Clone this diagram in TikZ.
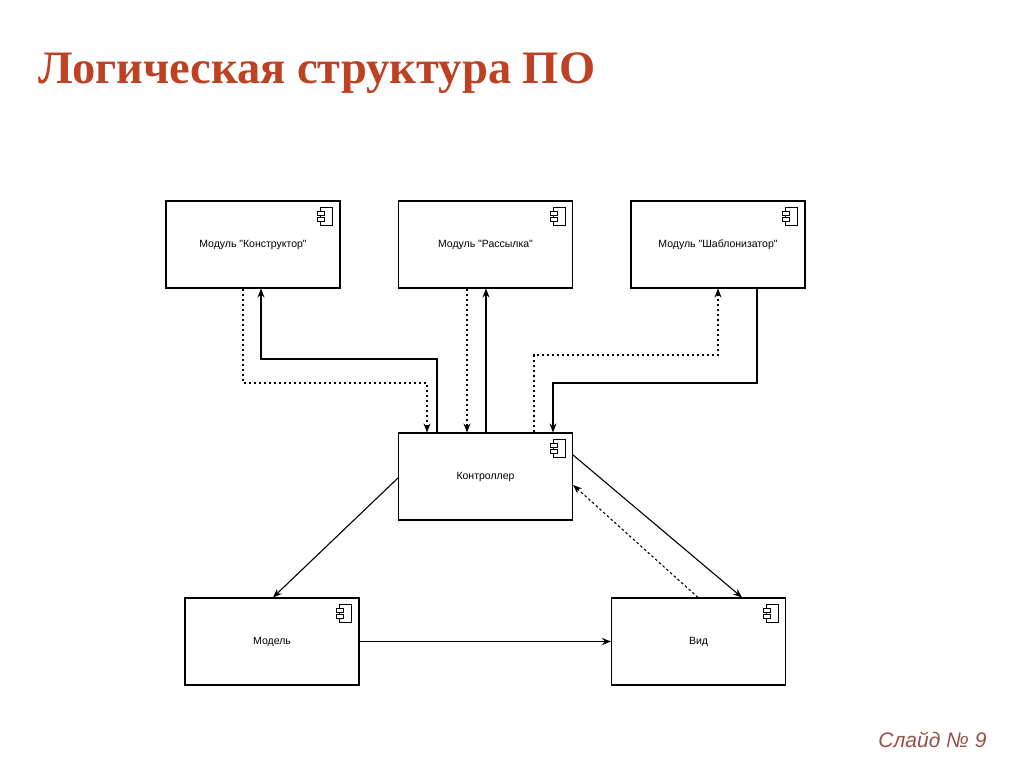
\documentclass[tikz,border=0pt]{standalone}
\usepackage{fontspec}
\setmainfont{Liberation Serif}
\newfontfamily\arialf{Liberation Sans}
\usetikzlibrary{arrows.meta}
\definecolor{titlered}{RGB}{190,65,35}
\definecolor{slidegray}{RGB}{150,80,70}
\tikzset{
  comp/.style={draw, line width=1.1pt, minimum width=174pt, minimum height=87pt, inner sep=0pt, font=\arialf\fontsize{10.5}{12}\selectfont},
  conn/.style={line width=1.1pt, -{Stealth[length=9pt,width=7pt]}},
  dconn/.style={conn, dash pattern=on 2.5pt off 2.5pt},
}
\newcommand{\compicon}[1]{%
  \draw[line width=0.7pt] ([xshift=-20pt,yshift=-7pt]#1.north east) rectangle ([xshift=-8pt,yshift=-25pt]#1.north east);
  \draw[line width=0.7pt,fill=white] ([xshift=-23pt,yshift=-11pt]#1.north east) rectangle ([xshift=-16pt,yshift=-15pt]#1.north east);
  \draw[line width=0.7pt,fill=white] ([xshift=-23pt,yshift=-17pt]#1.north east) rectangle ([xshift=-16pt,yshift=-21pt]#1.north east);
}
\begin{document}
\begin{tikzpicture}[x=1pt,y=-1pt]
\useasboundingbox (0,0) rectangle (1024,767);
\node[anchor=west, text=titlered, font=\bfseries\fontsize{46.5}{50}\selectfont] (title) at (35,73) {Логическая структура ПО};
\node[anchor=east, text=slidegray, font=\arialf\itshape\fontsize{21}{24}\selectfont] (slide) at (990,740) {Слайд № 9};

\node[comp] (k) at (253,244.5) {Модуль "Конструктор"};
\node[comp] (r) at (485.5,244.5) {Модуль "Рассылка"};
\node[comp] (s) at (718,244.5) {Модуль "Шаблонизатор"};
\node[comp] (c) at (485.5,476.5) {Контроллер};
\node[comp] (m) at (272,641.5) {Модель};
\node[comp] (v) at (698.5,641.5) {Вид};
\foreach \n in {k,r,s,c,m,v} {\compicon{\n}}

\draw[dconn] (k.south -| 243,0) |- (427,383) -- (c.north -| 427,0);
\draw[conn] (c.north -| 437,0) |- (261,359) -- (k.south -| 261,0);
\draw[dconn] (r.south -| 467,0) -- (c.north -| 467,0);
\draw[conn] (c.north -| 486,0) -- (r.south -| 486,0);
\draw[dconn] (c.north -| 534,0) |- (718,355) -- (s.south -| 718,0);
\draw[conn] (s.south -| 757,0) |- (553,383) -- (c.north -| 553,0);
\draw[conn] (c.west |- 0,478) -- (m.north -| 273,0);
\draw[conn] (m.east) -- (v.west);
\draw[conn] (c.east |- 0,455) -- (v.north -| 742,0);
\draw[dconn] (v.north -| 698,0) -- (c.east |- 0,485);
\end{tikzpicture}
\end{document}
